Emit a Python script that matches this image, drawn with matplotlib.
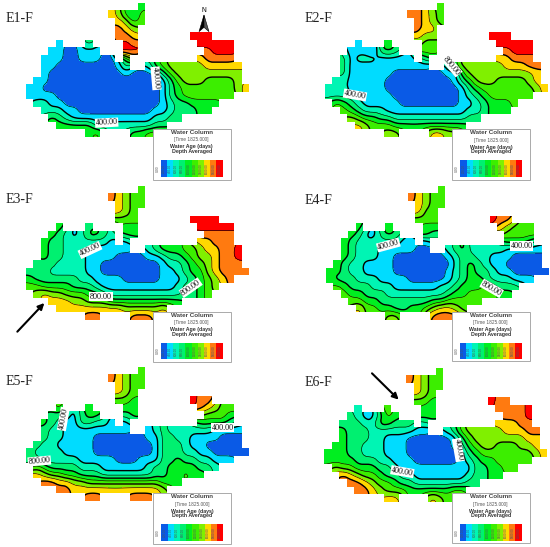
import numpy as np
import matplotlib
matplotlib.use("Agg")
import matplotlib.pyplot as plt
from matplotlib.colors import ListedColormap, BoundaryNorm
from matplotlib.path import Path
from matplotlib.patches import Rectangle, Polygon

# Water-age class per model cell: "startcol:classes",
# class k means age in [200k, 200k+200) days.
E1_CELLS = [
 "15:4","11:76435","12:7645","12:876","12:887 22:999","4:1 8:3 13:98 23:99999",
 "3:1100111 13:99 24:8999","2:1110011100 13:4 23:78888",
 "2:11000000001 13:3 16:2456666677777","2:100000000001000135666666666",
 "1:11000000000000000 18:135666 24:55556","0:11 2:0000000000000000 18:134 21:5555555 28:67",
 "0:1111 4:00000000000000 18:134 21:5555555","1:2211 5:0000000000000 18:12334444",
 "2:22211 7:0000000000 17:11 19:2 20:333 23:44","3:4321 7:1111111111 17:2233",
 "4:44444 9:2222222 16:233","8:45 14:44555"]
E2_CELLS = [
 "15:5","11:88765","12:8765","12:877","12:766 22:999","4:1 8:4 13:55 23:99999",
 "3:1110343 13:55 24:8999","2:3122211111 13:3 23:77888",
 "2:311111111111 16:2466666677788","2:3111111 9:0000000 16:114 19:66666666 27:67",
 "1:2211111 8:000000000 17:134 20:666 23:5555 27:67","0:2221 4:1111 8:0000000000 18:134 21:5555555 28:67",
 "0:2222 4:11111 9:000000000 18:1234 22:555555","1:54321 6:1111 10:00000000 18:11234445",
 "2:5432221 9:111111111 18:1223444","3:654433 9:222222222 18:233",
 "4:76555 9:4444444 16:444","8:66 14:7766"]
E3_CELLS = [
 "15:5","11:87655","12:7655","12:765","12:555 22:9999","4:4 8:3 13:44 23:99999",
 "3:432124432 13:44 24:8888","2:4332222221 13:1 23:77888",
 "2:433222111111 16:2344455677889","2:4332221111 12:0000 16:112334566788 28:9",
 "1:3332222 8:11 10:00000000 18:122345678 27:88","0:33322222 8:11 10:00000000 18:11 20:234 23:4 24:678 27:888",
 "0:4333333 7:22 9:1111 13:00000 18:1 19:11234567 27:8","0:554444 6:333 9:2 10:111111111 19:1 20:233456",
 "1:676655 7:544 10:32222222 18:22 20:2 21:3345",
 "3:7776655 10:5 11:4444444 18:444","4:777777777 13:66666 18:7","8:88 14:88877"]
E4_CELLS = [
 "15:5","11:87655","12:7655","12:755","12:555 22:988","4:4 8:4 13:44 23:76555",
 "3:4311343 13:43 24:5555","2:4322222211 13:1 24:4443",
 "2:4322211111 12:00 16:2342222 23:2 24:11111",
 "2:4322211 9:0 10:000000 16:1 17:233 20:22 22:111 25:0000",
 "1:43221111 9:00000000 17:23432 22:11 24:00000","0:44322111 8:1 9:0 10:000000 16:12343 21:32 23:11 25:00000",
 "0:433322 6:2 7:111 10:1 11:00000 16:12344 21:3222 25:111","1:54333222 9:111111 15:2234445 22:4333",
 "2:5443332 9:2222222 16:3445555 23:44","3:55443333 11:333 14:44 16:55555",
 "4:7554433 11:44 13:55 14:67765","8:66 14:8888"]
E5_CELLS = [
 "15:5","11:87655","12:7655","12:765","12:554 22:988","4:5 8:4 13:44 23:87655",
 "3:3321344 13:34 24:5554","2:4321133221 13:1 23:44443",
 "2:32211111111 13:1 16:1232222 23:22 25:1111",
 "2:3221111 9:0000000 16:1133 20:22 22:1111 26:000","1:32211111 9:00000000 17:1333 21:2 22:11 24:00000",
 "0:3222 4:21111 9:0000000 16:0133 20:3 21:2211 25:00000","0:3322222 7:1111 11:1 12:000 15:111334 21:33 23:22 25:111",
 "1:5433332 8:22 10:111111 16:2334 20:444 23:332","1:7655443 8:33 10:2222222 17:33 19:44 21:544",
 "2:8877665 9:555555555 18:444","4:887777777 13:77777 18:6","8:88 14:888"]
E6_CELLS = [
 "15:5","11:87655","12:7655","12:765","12:554 22:988","4:2 8:5 13:44 23:88889",
 "3:3211354 13:44 24:8889","2:3332244333 13:2 23:77788",
 "2:43332222 10:2211 16:2356666677788",
 "2:4333221 9:11 11:000000 17:135 20:67 22:66666 27:77","1:44332221 9:11 11:000000 17:12456 22:6 23:555 26:667",
 "0:44433222 8:111 11:0000000 18:1345555555 28:67","0:44443 5:3322 9:111 12:000000 18:123445 24:5555",
 "1:6554443 8:32 10:11111111 18:11 20:334455",
 "2:87655 7:4 8:33 10:22 12:1111111 19:2 20:3344","3:88765 8:54 10:33 12:222222 18:2 19:33",
 "4:8876555 11:444444 17:55","8:77 14:7655"]

PANEL_NAMES = ["E1-F", "E2-F", "E3-F", "E4-F", "E5-F", "E6-F"]
LEVELS = [0, 200, 400, 600, 800, 1000, 1200, 1400, 1600, 1800, 2000]
COLORS = ["#0a5ae6", "#00dcff", "#00f5b4", "#00f070", "#00ee20",
          "#3cee00", "#80f000", "#ffd800", "#ff7a10", "#ff0000"]
LEGEND_TICKS = ["200.00", "400.00", "600.00", "800.00", "1000.00",
                "1200.00", "1400.00", "1600.00", "1800.00", "2000.00"]
LABEL_E1 = [("400.00", 320, 368, 3), ("400.00", 468, 235, -85)]
LABEL_E2 = [("400.00", 240, 285, -10), ("800.00", 530, 197, -50)]
LABEL_E3 = [("400.00", 270, 195, 25), ("800.00", 303, 335, 0), ("800.00", 572, 308, 35)]
LABEL_E4 = [("400.00", 340, 180, 15), ("400.00", 740, 183, 0), ("800.00", 650, 310, -30)]
LABEL_E5 = [("400.00", 190, 162, 80), ("800.00", 118, 288, 5), ("400.00", 668, 188, 0)]
LABEL_E6 = [("400.00", 550, 255, -80), ("400.00", 382, 320, -10)]

CELL = 22.3 / 3
PANELS = [
 (0, E1_CELLS, LABEL_E1, 0, 0, 275, 185, 78, 8, 16, 65, 458, 387, 153),
 (1, E2_CELLS, LABEL_E2, 275, 0, 275, 185, 150, 8, 88, 65, 532, 388, 153),
 (2, E3_CELLS, LABEL_E3, 0, 185, 275, 180, 78, 3, 16, 55, 458, 380, 152),
 (3, E4_CELLS, LABEL_E4, 275, 185, 275, 180, 153, 3, 88, 58, 530, 380, 149),
 (4, E5_CELLS, LABEL_E5, 0, 365, 275, 182, 78, 5, 16, 60, 460, 385, 151),
 (5, E6_CELLS, LABEL_E6, 275, 365, 275, 182, 148, 8, 88, 62, 530, 385, 150),
]


def parse(rows):
    g = np.full((18, 30), np.nan)
    for r, row in enumerate(rows):
        for seg in row.split():
            s, v = seg.split(":")
            s = int(s)
            for i, ch in enumerate(v):
                if s + i < 30:
                    g[r, s + i] = int(ch)
    return g


def fill(g):
    g = g.copy()
    while np.isnan(g).any():
        p = np.pad(g, 1, constant_values=np.nan)
        stack = np.stack([p[:-2, 1:-1], p[2:, 1:-1], p[1:-1, :-2], p[1:-1, 2:]])
        cnt = (~np.isnan(stack)).sum(0)
        tot = np.nansum(stack, axis=0)
        new = np.where(cnt > 0, tot / np.maximum(cnt, 1), np.nan)
        g = np.where(np.isnan(g), new, g)
    return g


def smooth(a, w):
    k = np.ones(w) / w
    pad = w // 2
    a = np.pad(a, pad, mode="edge")
    a = np.apply_along_axis(lambda v: np.convolve(v, k, mode="valid"), 0, a)
    a = np.apply_along_axis(lambda v: np.convolve(v, k, mode="valid"), 1, a)
    return a


SUB = 6
fig = plt.figure(figsize=(5.5, 5.47), dpi=100, facecolor="white")
cmap = ListedColormap(COLORS)
norm = BoundaryNorm(LEVELS, cmap.N)
serif = "Liberation Serif"
sans = "Liberation Sans"

for idx, cells, labels, ax_x, ax_y, w, h, gx, gy, tx, ty, lx, ly, lh in PANELS:
    ax = fig.add_axes([ax_x / 550, 1 - (ax_y + h) / 547, w / 550, h / 547])
    ax.set_xlim(0, w)
    ax.set_ylim(h, 0)
    ax.axis("off")
    g = parse(cells)
    mask = ~np.isnan(g)
    f = (fill(g) + 0.5) * 200
    f = np.pad(f, 2, mode="edge")
    up = np.kron(f, np.ones((SUB, SUB)))
    up = smooth(smooth(up, SUB + 1), SUB + 1)
    ny, nx = up.shape
    x0 = gx / 3
    y0 = gy / 3
    xs = x0 + (np.arange(nx) + 0.5) / SUB * CELL - 2 * CELL
    ys = y0 + (np.arange(ny) + 0.5) / SUB * CELL - 2 * CELL
    verts, codes = [], []
    eps = 0.04
    for r in range(18):
        c = 0
        while c < 30:
            if mask[r, c]:
                e = c
                while e + 1 < 30 and mask[r, e + 1]:
                    e += 1
                xa, xb = x0 + c * CELL, x0 + (e + 1) * CELL
                ya, yb = y0 + r * CELL - eps, y0 + (r + 1) * CELL + eps
                verts += [(xa, ya), (xb, ya), (xb, yb), (xa, yb), (xa, ya)]
                codes += [Path.MOVETO, Path.LINETO, Path.LINETO, Path.LINETO, Path.CLOSEPOLY]
                c = e + 1
            else:
                c += 1
    clip = Path(verts, codes)
    cf = ax.contourf(xs, ys, up, levels=LEVELS, cmap=cmap, norm=norm, extend="neither", zorder=1)
    cf.set_clip_path(clip, transform=ax.transData)
    thin = ax.contour(xs, ys, up, levels=[200, 600, 1000, 1400, 1800], colors="black", linewidths=0.45, zorder=2)
    thin.set_clip_path(clip, transform=ax.transData)
    thick = ax.contour(xs, ys, up, levels=[400, 800, 1200, 1600], colors="black", linewidths=1.0, zorder=2)
    thick.set_clip_path(clip, transform=ax.transData)

    for text, lbx, lby, rot in labels:
        ax.text(lbx / 3, lby / 3, text, fontsize=5.9, family=serif, rotation=rot, rotation_mode="anchor",
                ha="center", va="center", color="#111111", zorder=4,
                bbox=dict(facecolor="white", edgecolor="none", pad=0.4))

    ax.text(tx / 3, ty / 3, PANEL_NAMES[idx], fontsize=10, family=serif, color="#222222",
            ha="left", va="baseline", zorder=5)

    bx, by = lx / 3, ly / 3
    bw, bh = 234 / 3, lh / 3
    ax.add_patch(Rectangle((bx, by), bw, bh, facecolor="white", edgecolor="#aaaaaa", lw=0.7, zorder=6))
    for off, txt, fs, wt, col in [(11, "Water Column", 4.5, "bold", "#444444"),
                                  (33, "[Time 1825.000]", 3.4, "normal", "#555555"),
                                  (53, "Water Age (days)", 3.8, "bold", "#333333"),
                                  (68, "Depth Averaged", 3.8, "bold", "#333333")]:
        ax.text(bx + bw / 2, by + off / 3, txt, fontsize=fs, fontweight=wt, family=sans, color=col,
                ha="center", va="center", zorder=7)
    cw = 18.6 / 3
    cx0 = bx + 24 / 3
    cy0 = by + 93 / 3
    chh = 50 / 3
    for i, col in enumerate(COLORS):
        ax.add_patch(Rectangle((cx0 + i * cw, cy0), cw, chh, facecolor=col, edgecolor="none", zorder=7))
        ax.text(cx0 + (i + 0.5) * cw, cy0 + chh / 2, LEGEND_TICKS[i], rotation=90, fontsize=2.2, family=sans,
                color="#445566", ha="center", va="center", zorder=8)
    ax.text(cx0 - 3, cy0 + chh / 2, "0.00", rotation=90, fontsize=2.4, family=sans, color="#555555",
            ha="center", va="center", zorder=8)

    if idx == 0:
        ax.add_patch(Polygon([(597 / 3, 95 / 3), (612 / 3, 45 / 3), (612 / 3, 82 / 3)], facecolor="black",
                             edgecolor="black", lw=0.4, zorder=6))
        ax.add_patch(Polygon([(627 / 3, 95 / 3), (612 / 3, 45 / 3), (612 / 3, 82 / 3)], facecolor="#555555",
                             edgecolor="black", lw=0.4, zorder=6))
        ax.text(612 / 3, 32 / 3, "N", fontsize=4.8, family=sans, ha="center", va="center", zorder=6)
    if idx == 2:
        ax.annotate("", xy=(133 / 3, 354 / 3), xytext=(52 / 3, 440 / 3),
                    arrowprops=dict(arrowstyle="-|>", color="black", lw=1.5, mutation_scale=9, shrinkA=0, shrinkB=0), zorder=6)
    if idx == 5:
        ax.annotate("", xy=(371 / 3, 104 / 3), xytext=(291 / 3, 25 / 3),
                    arrowprops=dict(arrowstyle="-|>", color="black", lw=1.5, mutation_scale=9, shrinkA=0, shrinkB=0), zorder=6)

fig.savefig("out.png", dpi=100, facecolor="white")
